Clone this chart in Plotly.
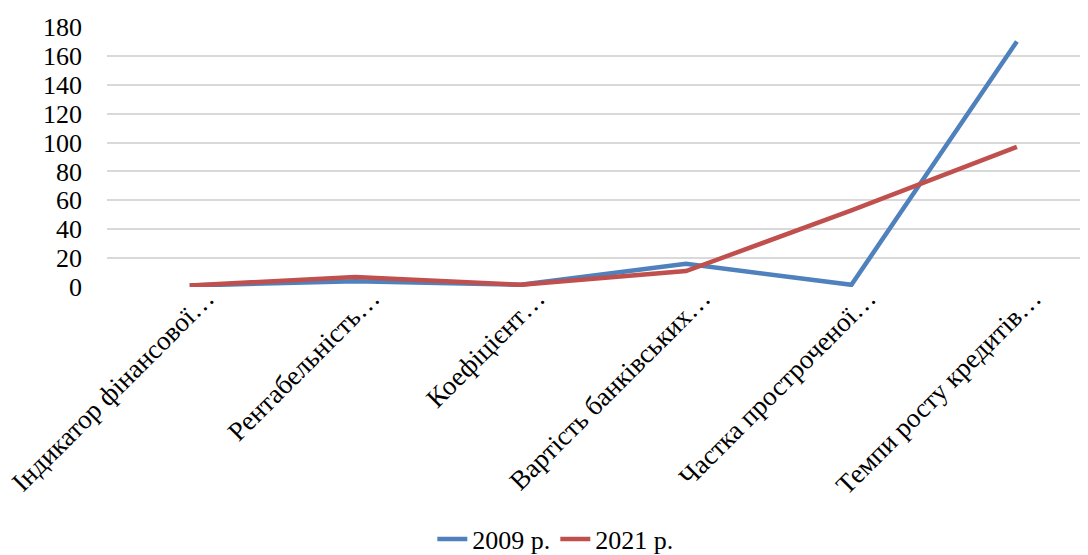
import plotly.graph_objects as go

categories = [
    "Індикатор фінансової…",
    "Рентабельність…",
    "Коефіцієнт…",
    "Вартість банківських…",
    "Частка простроченої…",
    "Темпи росту кредитів…",
]
series_2009 = [1, 4, 1.5, 16, 1.5, 170]
series_2021 = [1, 7, 1.5, 11, 53, 97]
y_ticks = [0, 20, 40, 60, 80, 100, 120, 140, 160, 180]

FONT = "Liberation Serif, Times New Roman, serif"
xpos = list(range(len(categories)))

fig = go.Figure()
fig.add_trace(go.Scatter(
    x=xpos, y=series_2009, name="2009 р.",
    mode="lines", line=dict(color="#4F81BD", width=4.5),
))
fig.add_trace(go.Scatter(
    x=xpos, y=series_2021, name="2021 р.",
    mode="lines", line=dict(color="#C0504D", width=4.5),
))

# page body has an 8px margin, so the figure is 8px smaller and offset
fig.update_layout(
    width=1080, height=547,
    margin=dict(l=99, r=0, t=19, b=268, autoexpand=False),
    paper_bgcolor="white", plot_bgcolor="white",
    font=dict(family=FONT, size=26, color="black"),
    showlegend=True,
    legend=dict(
        orientation="h", x=0.457, xanchor="center",
        y=-0.97, yanchor="middle",
        font=dict(family=FONT, size=26, color="black"),
        itemwidth=30, bgcolor="rgba(0,0,0,0)",
    ),
    xaxis=dict(
        tickmode="array", tickvals=[p + 0.1 for p in xpos], ticktext=categories,
        range=[-0.5, 5.43], tickangle=-45, showgrid=False, zeroline=False,
        showline=False, ticks="", automargin=False, ticklabeloverflow="allow",
        ticklabelstandoff=-11,
        tickfont=dict(family=FONT, size=27, color="black"),
    ),
    yaxis=dict(
        range=[0, 180], tickvals=y_ticks, showgrid=True, gridcolor="#D9D9D9",
        gridwidth=1.5, zeroline=False, showline=False, ticks="", automargin=False,
        ticklabelstandoff=24,
        tickfont=dict(family=FONT, size=26, color="black"),
    ),
)

fig.write_html("out.html")
